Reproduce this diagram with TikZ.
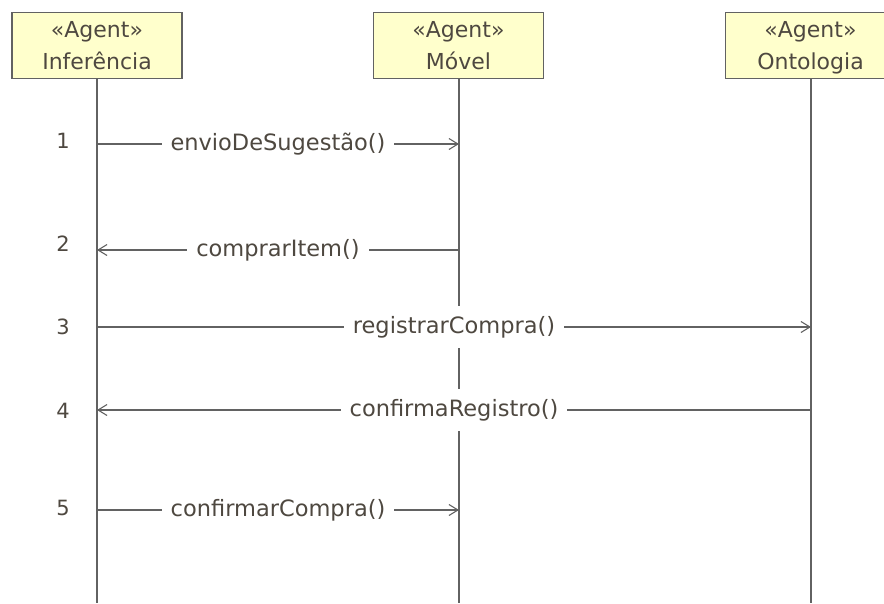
\documentclass[tikz,border=0pt]{standalone}
\usepackage{fontspec}
\setmainfont{DejaVu Sans}
\usetikzlibrary{arrows.meta}
\definecolor{headfill}{HTML}{FFFFCC}
\definecolor{inkgrey}{HTML}{626262}
\definecolor{textbrown}{HTML}{4E4840}
\tikzset{
  head/.style={draw=inkgrey, line width=1.2pt, fill=headfill, minimum width=170pt,
    minimum height=66pt, inner sep=0pt, align=center, text=textbrown,
    font=\fontsize{22}{32}\selectfont},
  lifeline/.style={draw=inkgrey, line width=1.1pt},
  msg/.style={draw=inkgrey, line width=1.1pt},
  call/.style={msg, -{Straight Barb[length=9pt,width=11pt,line width=1.1pt]}},
  msglabel/.style={fill=white, inner xsep=9pt, minimum height=42pt, text=textbrown,
    font=\fontsize{22.5}{24}\selectfont},
  seqnum/.style={text=textbrown, font=\fontsize{21}{24}\selectfont}
}
\begin{document}
\begin{tikzpicture}[x=1pt, y=-1pt]
  \useasboundingbox (0,0) rectangle (884,603);

  % agent heads (names smashed so every box sets its two lines alike)
  \node[head] (inf) at (97,45.5) {«Agent»\\\smash{Inferência}};
  \node[head] (mov) at (458.5,45.5) {«Agent»\\\smash{Móvel}};
  \node[head] (ont) at (810.5,45.5) {«Agent»\\\smash{Ontologia}};

  % lifeline ends
  \coordinate (infEnd) at (97,603);
  \coordinate (movEnd) at (459,603);
  \coordinate (ontEnd) at (811,603);

  \draw[lifeline] (inf.south -| infEnd) -- (infEnd);
  \draw[lifeline] (mov.south -| movEnd) -- (movEnd);
  \draw[lifeline] (ont.south -| ontEnd) -- (ontEnd);

  % message anchor points on the lifelines
  \coordinate (i1) at (97,144);  \coordinate (m1) at (459,144);
  \coordinate (i2) at (97,250);  \coordinate (m2) at (459,250);
  \coordinate (i3) at (97,327);  \coordinate (o3) at (811,327);
  \coordinate (i4) at (97,410);  \coordinate (o4) at (811,410);
  \coordinate (i5) at (97,510);  \coordinate (m5) at (459,510);

  % messages
  \draw[call] (i1) -- node[msglabel, pos=0.5] (l1) {envioDeSugestão()} (m1);
  \draw[call] (m2) -- node[msglabel, pos=0.5] (l2) {comprarItem()} (i2);
  \draw[call] (i3) -- node[msglabel, pos=0.5] (l3) {registrarCompra()} (o3);
  \draw[call] (o4) -- node[msglabel, pos=0.5] (l4) {confirmaRegistro()} (i4);
  \draw[call] (i5) -- node[msglabel, pos=0.5] (l5) {confirmarCompra()} (m5);

  % sequence numbers
  \node[seqnum] (n1) at (63,141) {1};
  \node[seqnum] (n2) at (63,244) {2};
  \node[seqnum] (n3) at (63,327) {3};
  \node[seqnum] (n4) at (63,411) {4};
  \node[seqnum] (n5) at (63,508) {5};
\end{tikzpicture}
\end{document}
